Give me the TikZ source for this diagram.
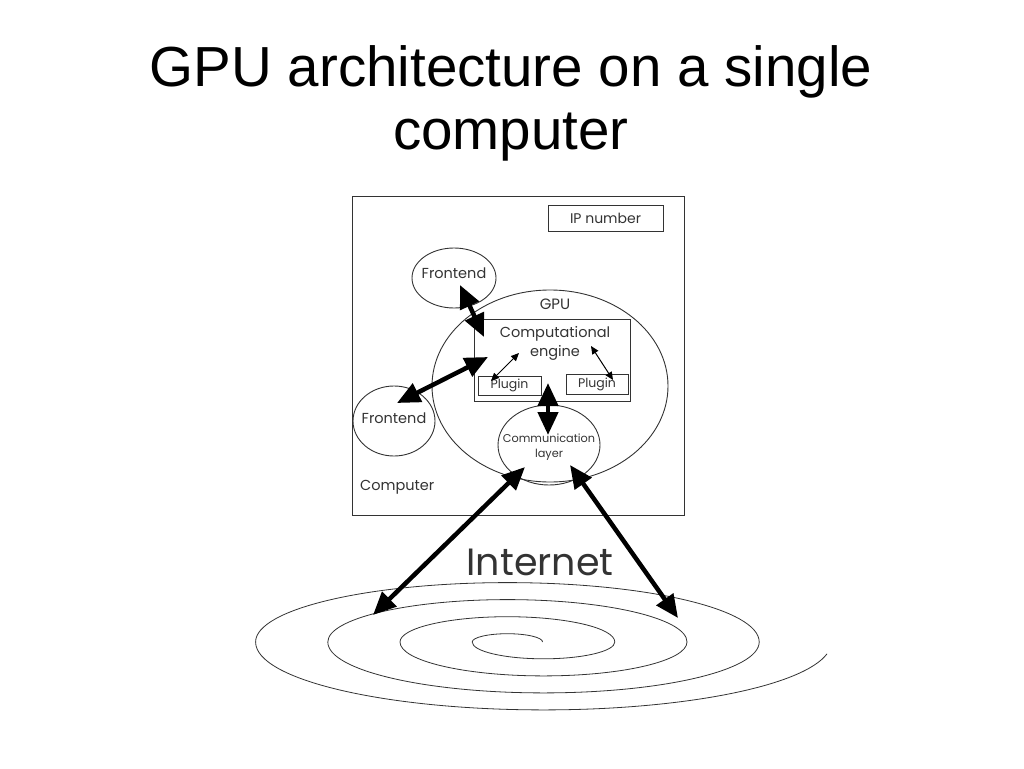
\documentclass[tikz,border=0pt]{standalone}
\usepackage{fontspec}
\setmainfont{Liberation Sans}
\newfontfamily\gothic{Poppins}
\usepackage{tikz}
\usetikzlibrary{positioning,arrows.meta,shapes.geometric,calc}
\definecolor{lgray}{HTML}{333333}

\begin{document}
\begin{tikzpicture}[x=1pt, y=1pt,
  box/.style={draw=lgray, line width=0.9pt, inner sep=0pt, outer sep=0pt},
  blob/.style={box, ellipse},
  barr/.style={{Triangle[length=23pt, width=20pt]}-{Triangle[length=23pt, width=20pt]}, line width=4.5pt},
  sarr/.style={{Triangle[length=8pt, width=7pt]}-{Triangle[length=8pt, width=7pt]}, line width=1pt},
  lab/.style={text=lgray, inner sep=0pt, font=\gothic\fontsize{14}{16}\selectfont}]
\useasboundingbox (0,0) rectangle (1024,-768);

% --- title ---
\node[align=center, inner sep=0pt, anchor=north, font=\fontsize{56.5}{63}\selectfont] (title) at (511,-45)
  {GPU architecture on a single\\computer};

% --- the computer with its parts ---
\node[box, minimum width=332pt, minimum height=319pt] (comp) at (518,-355.5) {};
\node[lab, anchor=south west, font=\gothic\fontsize{14.5}{16}\selectfont] at (360,-494) {Computer};
\node[box, lab, minimum width=115pt, minimum height=26pt] (ip) at (605.5,-218) {IP number};

\node[blob, minimum width=84pt, minimum height=60pt] (fe1) at (454,-278) {};
\node[lab, font=\gothic\fontsize{14.5}{16}\selectfont] at ($(fe1)+(0,5)$) {Frontend};
\node[blob, minimum width=236pt, minimum height=192pt] (gpu) at (550,-386) {};
\node[lab, font=\gothic\fontsize{15}{16}\selectfont] at (555,-304) {GPU};
\node[box, minimum width=156pt, minimum height=82pt] (eng) at (552,-360) {};
\node[lab, align=center, font=\gothic\fontsize{14.5}{19}\selectfont] at (555,-343) {Computational\\engine};
\node[box, lab, minimum width=63pt, minimum height=19pt, font=\gothic\fontsize{12.5}{14}\selectfont] (pl1) at (509.5,-385.5) {Plugin};
\node[box, lab, minimum width=62pt, minimum height=20pt, font=\gothic\fontsize{12.5}{14}\selectfont] (pl2) at (597,-384) {Plugin};
\node[blob, minimum width=82pt, minimum height=70pt] (fe2) at (394,-421) {};
\node[lab, font=\gothic\fontsize{14.5}{16}\selectfont] at ($(fe2)+(0,3)$) {Frontend};
\node[blob, minimum width=102pt, minimum height=80pt] (com) at (549,-445) {};
\node[lab, align=center, font=\gothic\fontsize{11.3}{15}\selectfont] at ($(com)+(0,-2)$) {Communication\\layer};

% --- internet spiral ---
\draw[lgray, line width=0.8pt] (542.6,-642)
  arc[start angle=0, end angle=180, x radius=35.2, y radius=8.3]
  arc[start angle=180, end angle=360, x radius=71.3, y radius=16.8]
  arc[start angle=0, end angle=180, x radius=107.4, y radius=25.3]
  arc[start angle=180, end angle=360, x radius=143.5, y radius=33.9]
  arc[start angle=0, end angle=180, x radius=179.6, y radius=42.4]
  arc[start angle=180, end angle=360, x radius=215.7, y radius=50.9]
  arc[start angle=0, end angle=180, x radius=251.8, y radius=59.4]
  arc[start angle=180, end angle=350, x radius=287.9, y radius=67.9];
\node[lab, font=\gothic\fontsize{38}{40}\selectfont] (net) at (540,-562) {Internet};
\coordinate (netL) at (373,-615);
\coordinate (netR) at (678,-618);

% --- connectors ---
\draw[barr] ($(fe1.center)+(6,-7)$) -- ($(eng.north west)+(10,-18)$);
\draw[barr] ($(fe2.center)+(3,18)$) -- ($(eng.west)+(14,3)$);
\draw[sarr] ($(pl1.center)+(-18.5,4.5)$) -- ($(eng.center)+(-33,7)$);
\draw[sarr] ($(eng.center)+(39,14)$) -- ($(pl2.center)+(16,4)$);
\draw[barr] ($(eng.center)+(-4,-23)$) -- ($(com.center)+(-1,10)$);
\draw[barr] ($(com.center)+(-24,-22)$) -- (netL);
\draw[barr] ($(com.center)+(21,-20)$) -- (netR);
\end{tikzpicture}
\end{document}
